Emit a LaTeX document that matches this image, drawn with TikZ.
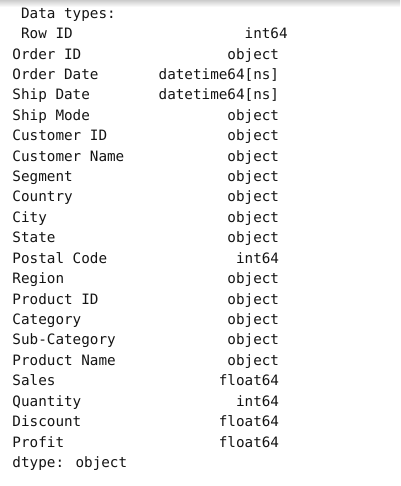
\documentclass[tikz,border=0pt]{standalone}
\usepackage{fontspec}
\newfontfamily\consol{DejaVu Sans Mono}
\definecolor{txt}{HTML}{141414}
\begin{document}
\begin{tikzpicture}[x=1pt,y=-1pt,
  lbl/.style={inner sep=0pt,outer sep=0pt,anchor=base west,text=txt,font=\consol\fontsize{14.29}{17}\selectfont},
  val/.style={lbl,anchor=base east}]
\useasboundingbox (0,0) rectangle (400,486);
\fill[white] (0,0) rectangle (400,486);
\shade[top color=black!20,bottom color=white] (0,0) rectangle (400,7);
\def\xa{12.5}
\def\xb{279.1}
\def\ch{8.6}
\def\dy{20.42}
\def\ya{18.2}
\node[lbl] (title) at (\xa+\ch,\ya) {Data types:};
\node[lbl] (n1) at (\xa+\ch,\ya+\dy) {Row ID};
\node[val] (v1) at (\xb+\ch,\ya+\dy) {int64};
\foreach \nm/\vl [count=\i from 2] in {
  Order ID/object,
  Order Date/datetime64[ns],
  Ship Date/datetime64[ns],
  Ship Mode/object,
  Customer ID/object,
  Customer Name/object,
  Segment/object,
  Country/object,
  City/object,
  State/object,
  Postal Code/int64,
  Region/object,
  Product ID/object,
  Category/object,
  Sub-Category/object,
  Product Name/object,
  Sales/float64,
  Quantity/int64,
  Discount/float64,
  Profit/float64}{
  \node[lbl] (n\i) at (\xa,\ya+\i*\dy) {\nm};
  \node[val] (v\i) at (\xb,\ya+\i*\dy) {\vl};
}
\node[lbl] (foot) at (\xa,\ya+22*\dy) {dtype: object};
\end{tikzpicture}
\end{document}
